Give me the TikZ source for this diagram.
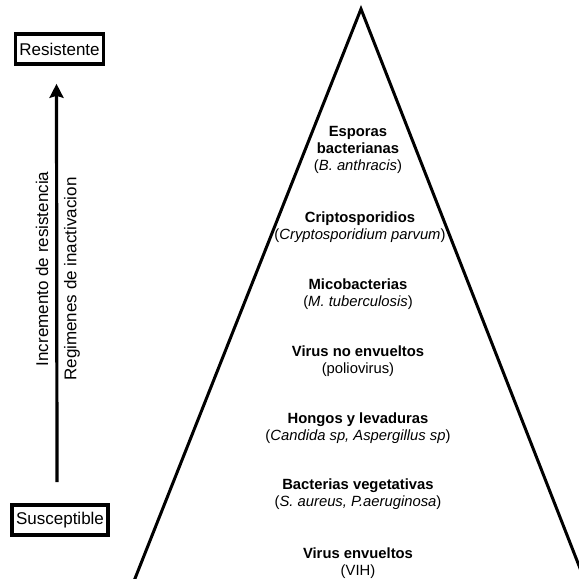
\documentclass[tikz,border=0pt]{standalone}
\usepackage{fontspec}
\setmainfont{Liberation Sans}
\usetikzlibrary{arrows.meta}
\begin{document}
\begin{tikzpicture}[x=1pt,y=-1pt,
  endbox/.style={draw,line width=3.6pt,inner xsep=4pt,minimum height=30pt,font=\fontsize{17}{20}\selectfont},
  sidelabel/.style={rotate=90,font=\fontsize{17}{20}\selectfont},
  level/.style={align=center,font=\fontsize{14.8}{17}\selectfont}]
\useasboundingbox (0,0) rectangle (579,579);
\clip (0,0) rectangle (579,579);
% pyramid
\coordinate (apex) at (361,9);
\coordinate (left) at (134,581);
\coordinate (right) at (585,581);
\draw[line width=3pt,line join=miter] (left) -- (apex) -- (right);
% ends of the scale
\node[endbox] (resis) at (59.5,49) {Resistente};
\node[endbox] (susc) at (60,520) {Susceptible};
\draw[line width=3.2pt,-{Stealth[length=14pt,width=14pt,inset=2pt]}]
  ([xshift=-3pt,yshift=21pt]susc.north) -- ([xshift=-3pt,yshift=-18pt]resis.south);
\node[sidelabel] (incr) at (42,269) {Incremento de resistencia};
\node[sidelabel] (regi) at (72,279) {Regimenes de inactivacion};
% levels
\node[level] (esporas) at (358,150) {\textbf{Esporas}\\\textbf{bacterianas}\\(\textit{B. anthracis})};
\node[level] (cripto) at (360,227) {\textbf{Criptosporidios}\\(\textit{Cryptosporidium parvum})};
\node[level] (mico) at (358,294) {\textbf{Micobacterias}\\(\textit{M. tuberculosis})};
\node[level] (virusno) at (358,361) {\textbf{Virus no envueltos}\\(poliovirus)};
\node[level] (hongos) at (358,428) {\textbf{Hongos y levaduras}\\(\textit{Candida sp, Aspergillus sp})};
\node[level] (bacter) at (358,494) {\textbf{Bacterias vegetativas}\\(\textit{S. aureus, P.aeruginosa})};
\node[level] (virusen) at (358,563) {\textbf{Virus envueltos}\\(VIH)};
\end{tikzpicture}
\end{document}
